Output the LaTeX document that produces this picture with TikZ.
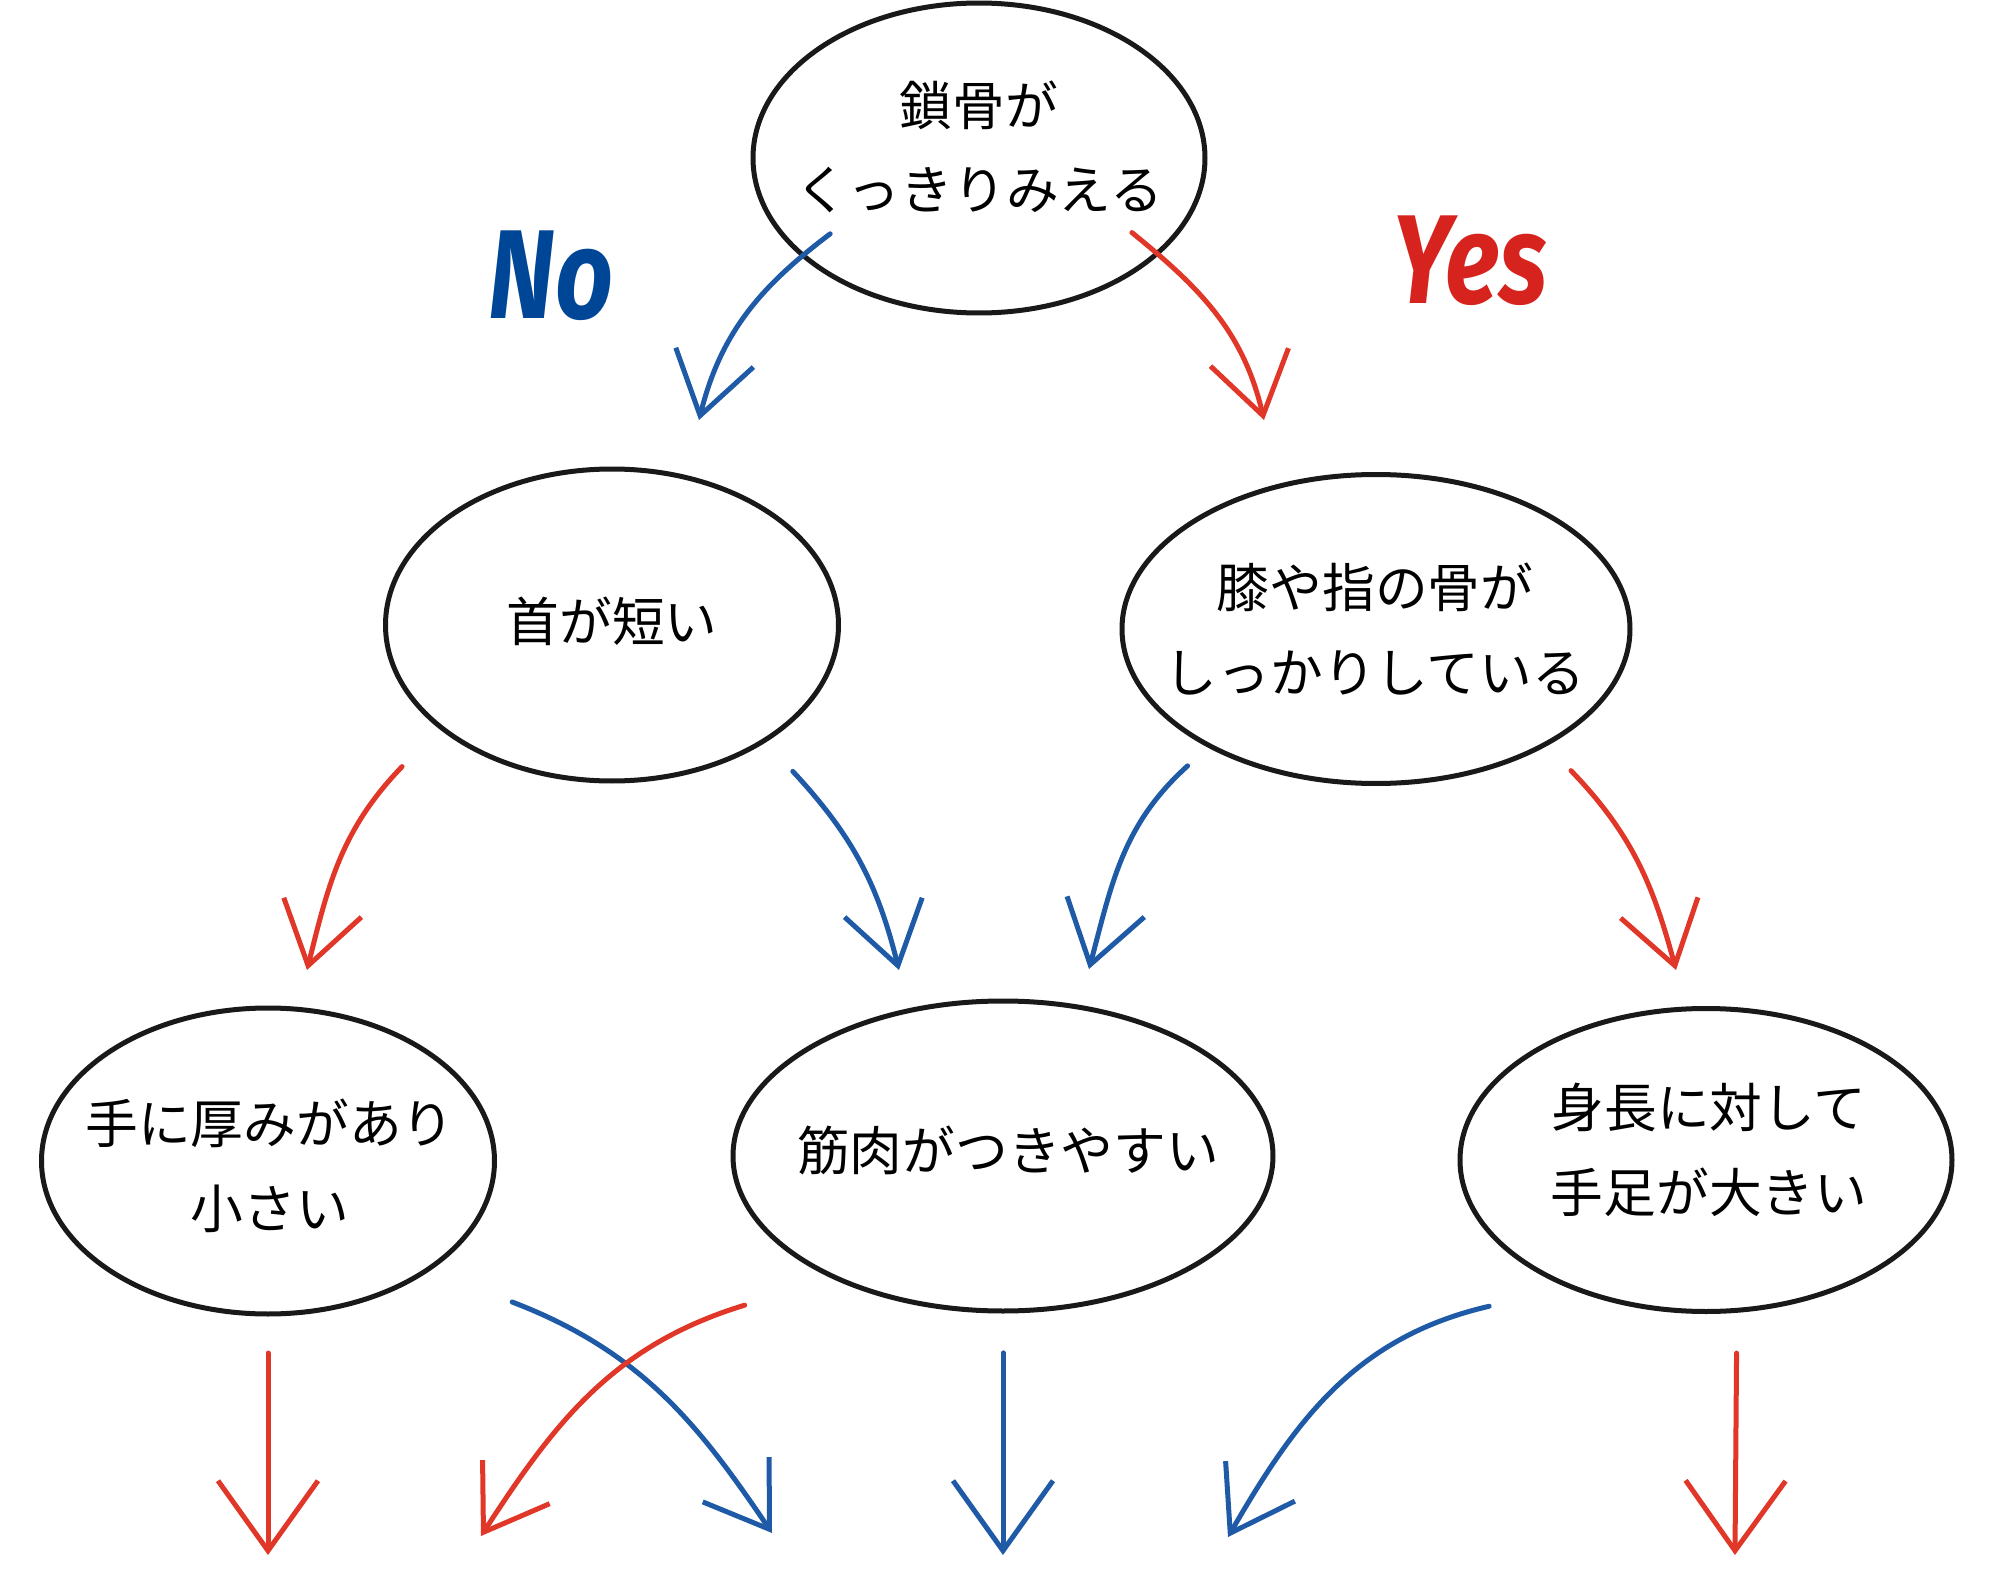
\documentclass[tikz,border=0pt]{standalone}
\usepackage{fontspec}
\newfontfamily\jpfont{Noto Sans CJK JP}
\newfontfamily\yesnofont{Fira Sans}[FakeStretch=0.8]
\usetikzlibrary{shapes.geometric,arrows.meta,calc}

\definecolor{noblue}{RGB}{0,70,150}
\definecolor{yesred}{RGB}{215,35,30}
\definecolor{arrowblue}{RGB}{30,90,165}
\definecolor{arrowred}{RGB}{225,55,40}

\begin{document}
\begin{tikzpicture}[x=0.1mm,y=-0.1mm,
    oval/.style={ellipse,draw=black!90,line width=0.5mm,inner sep=0pt},
    txt/.style={font={\jpfont\fontsize{15}{24}\selectfont},align=center},
    answer/.style={font={\yesnofont\bfseries\itshape\fontsize{36}{36}\selectfont},anchor=base},
    noarrow/.style={draw=arrowblue,line width=0.5mm,line cap=round,-{Straight Barb[length=6mm,width=8mm]}},
    yesarrow/.style={draw=arrowred,line width=0.5mm,line cap=round,-{Straight Barb[length=6mm,width=8mm]}},
    longtip/.style={-{Straight Barb[length=7mm,width=10mm]}}]
    \useasboundingbox (0,0) rectangle (2000,1586);

    % first question
    \node[oval,minimum width=45.2mm,minimum height=31mm] (collar) at (979,158) {};
    \node[txt] (collar-text) at (979,147) {鎖骨が\\くっきりみえる};

    % No / Yes
    \node[answer,text=noblue] (no-label) at (551,318) {No};
    \node[answer,text=yesred] (yes-label) at (1470,303) {Yes};

    % second row
    \node[oval,minimum width=45.3mm,minimum height=31.2mm] (neck) at (612,625) {};
    \node[txt] (neck-text) at (612,621) {首が短い};
    \node[oval,minimum width=50.8mm,minimum height=30.9mm] (joint) at (1376,629) {};
    \node[txt] (joint-text) at (1375,629) {膝や指の骨が\\しっかりしている};

    % third row
    \node[oval,minimum width=45.3mm,minimum height=30.6mm] (hand) at (268,1161) {};
    \node[txt] (hand-text) at (270,1166) {手に厚みがあり\\小さい};
    \node[oval,minimum width=54mm,minimum height=31mm] (muscle) at (1003,1156) {};
    \node[txt] (muscle-text) at (1008,1150) {筋肉がつきやすい};
    \node[oval,minimum width=49.2mm,minimum height=30.3mm] (limbs) at (1706,1160) {};
    \node[txt] (limbs-text) at (1709,1150) {身長に対して\\手足が大きい};

    % free ends of the arrows
    \coordinate (collar-no) at (699,420);
    \coordinate (collar-yes) at (1264,420);
    \coordinate (neck-yes) at (307,970);
    \coordinate (neck-no) at (899,970);
    \coordinate (joint-no) at (1089,969);
    \coordinate (joint-yes) at (1676,970);
    \coordinate (hand-yes) at (268,1555);
    \coordinate (hand-no) at (772,1533);
    \coordinate (muscle-yes) at (481,1536);
    \coordinate (muscle-no) at (1003,1555);
    \coordinate (limbs-no) at (1228,1537);
    \coordinate (limbs-yes) at (1735,1555);

    % arrows
    \draw[noarrow] ($(collar.center)!0.81!(collar.207)$) to[out=217,in=76] (collar-no);
    \draw[yesarrow] ($(collar.center)!0.82!(collar.334)$) to[out=321,in=103] (collar-yes);
    \draw[yesarrow] ($(neck.center)!1.28!(neck.214)$) to[out=226,in=76] (neck-yes);
    \draw[noarrow] ($(neck.center)!1.215!(neck.321)$) to[out=313,in=104] (neck-no);
    \draw[noarrow] ($(joint.center)!1.14!(joint.216)$) to[out=222,in=75] (joint-no);
    \draw[yesarrow] ($(joint.center)!1.18!(joint.324)$) to[out=314,in=105] (joint-yes);
    \draw[yesarrow,longtip] ($(hand.center)!1.235!(hand.south)$) -- (hand-yes);
    \draw[noarrow] ($(hand.center)!1.40!(hand.330)$) to[out=339,in=124] (hand-no);
    \draw[yesarrow] ($(muscle.center)!1.34!(muscle.210)$) to[out=197,in=57] (muscle-yes);
    \draw[noarrow,longtip] ($(muscle.center)!1.25!(muscle.south)$) -- (muscle-no);
    \draw[noarrow] ($(limbs.center)!1.29!(limbs.214)$) to[out=193,in=60] (limbs-no);
    \draw[yesarrow,longtip] ($(limbs.center)!1.26!(limbs.279)$) -- (limbs-yes);
\end{tikzpicture}
\end{document}
